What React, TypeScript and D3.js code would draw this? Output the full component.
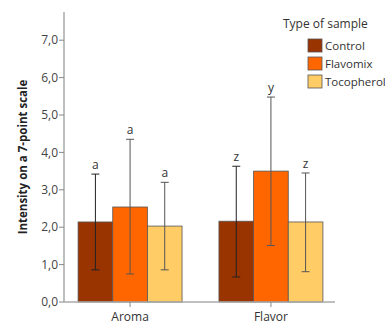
import React from "react";
import * as d3 from "d3";

const categories = ["Aroma", "Flavor"];
const samples = ["Control", "Flavomix", "Tocopherol"];
const colors = ["#993300", "#ff6600", "#ffcc66"];
const means = [
  [2.14, 2.54, 2.03],
  [2.16, 3.5, 2.14],
];
const upper = [
  [3.42, 4.35, 3.2],
  [3.63, 5.48, 3.45],
];
const lower = [
  [0.86, 0.75, 0.86],
  [0.67, 1.51, 0.81],
];
const letters = [
  ["a", "a", "a"],
  ["z", "y", "z"],
];
const yTicks = [0, 1, 2, 3, 4, 5, 6, 7];

const width = 385;
const height = 327;
const font = "'Open Sans', 'Liberation Sans', sans-serif";

const App = () => {
  const left = 64;
  const right = 335;
  const bottom = 302;

  const y = d3.scaleLinear().domain([0, 7]).range([bottom, 40.2]);
  const x0 = d3.scaleBand().domain(categories).range([left, 337]).paddingInner(0.262).paddingOuter(0.1);
  const x1 = d3.scaleBand().domain(samples).range([0, x0.bandwidth()]);
  const fmt = (v: number) => d3.format(".1f")(v).replace(".", ",");

  return (
    <svg width={width} height={height} style={{ position: "absolute", left: 0, top: 0 }} fontFamily={font}>
      <rect width={width} height={height} fill="#fff" />
      {/* bars */}
      {categories.map((c, ci) => (
        <g key={c} transform={`translate(${x0(c)},0)`}>
          {samples.map((s, si) => (
            <rect
              key={s}
              x={x1(s)}
              y={y(means[ci][si])}
              width={x1.bandwidth()}
              height={bottom - y(means[ci][si])}
              fill={colors[si]}
              stroke="#555"
              strokeWidth={0.8}
            />
          ))}
          {samples.map((s, si) => {
            const cx = (x1(s) as number) + x1.bandwidth() / 2;
            const col = si === 0 ? "#222" : "#555";
            return (
              <g key={s + "e"} stroke={col} strokeWidth={1}>
                <line x1={cx} x2={cx} y1={y(upper[ci][si])} y2={y(lower[ci][si])} />
                <line x1={cx - 4} x2={cx + 4} y1={y(upper[ci][si])} y2={y(upper[ci][si])} />
                <line x1={cx - 4} x2={cx + 4} y1={y(lower[ci][si])} y2={y(lower[ci][si])} />
                <text
                  x={cx}
                  y={y(upper[ci][si]) - 5}
                  textAnchor="middle"
                  fontSize={12}
                  fill="#333"
                  stroke="none"
                >
                  {letters[ci][si]}
                </text>
              </g>
            );
          })}
        </g>
      ))}
      {/* y axis */}
      <line x1={left} x2={left} y1={12} y2={bottom} stroke="#aaa" strokeWidth={1.5} />
      {yTicks.map((t) => (
        <g key={t} transform={`translate(0,${y(t)})`}>
          <line x1={left - 5} x2={left} stroke="#888" />
          <text x={left - 6} dy="0.35em" textAnchor="end" fontSize={12} fill="#444">
            {fmt(t)}
          </text>
        </g>
      ))}
      {/* x axis */}
      <line x1={left} x2={right} y1={bottom} y2={bottom} stroke="#aaa" strokeWidth={1.5} />
      {categories.map((c) => {
        const cx = (x0(c) as number) + x0.bandwidth() / 2;
        return (
          <g key={c}>
            <line x1={cx} x2={cx} y1={bottom} y2={bottom + 5} stroke="#888" />
            <text x={cx} y={bottom + 19} textAnchor="middle" fontSize={12} fill="#333">
              {c}
            </text>
          </g>
        );
      })}
      <text
        transform={`translate(27,${(12 + bottom) / 2}) rotate(-90)`}
        textAnchor="middle"
        fontSize={11.5}
        fontWeight="bold"
        fill="#222"
      >
        Intensity on a 7-point scale
      </text>
      {/* legend */}
      <text x={283} y={28} fontSize={12} fill="#333">
        Type of sample
      </text>
      {samples.map((s, i) => (
        <g key={s} transform={`translate(308,${39 + i * 18})`}>
          <rect width={14} height={13} fill={colors[i]} stroke="#555" strokeWidth={0.8} />
          <text x={17} y={10.5} fontSize={11.5} fill="#333">
            {s}
          </text>
        </g>
      ))}
    </svg>
  );
};

export default App;
